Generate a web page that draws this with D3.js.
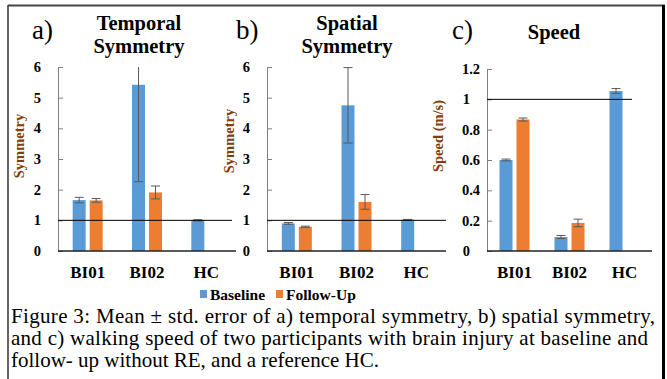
<!DOCTYPE html>
<html>
<head>
<meta charset="utf-8">
<script src="https://cdn.jsdelivr.net/npm/d3@7"></script>
<style>
  body { margin: 0; background: #fff; }
  svg { display: block; font-family: "Liberation Serif", "Times New Roman", serif; }
</style>
</head>
<body>
<div id="chart-container"></div>
<script>
// Données
const categories = ["BI01", "BI02", "HC"];
const seriesNames = ["Baseline", "Follow-Up"];

const temporalBase = [1.66, 5.42, 1.0];
const temporalBaseErr = [0.09, 3.16, 0.02];
const temporalFollow = [1.65, 1.91, null];
const temporalFollowErr = [0.06, 0.21, null];

const spatialBase = [0.9, 4.75, 1.02];
const spatialBaseErr = [0.03, 1.23, 0.01];
const spatialFollow = [0.79, 1.6, null];
const spatialFollowErr = [0.02, 0.24, null];

const speedBase = [0.6, 0.092, 1.055];
const speedBaseErr = [0.006, 0.01, 0.016];
const speedFollow = [0.867, 0.185, null];
const speedFollowErr = [0.01, 0.025, null];

const symTicks = [0, 1, 2, 3, 4, 5, 6];
const speedTicks = [0, 0.2, 0.4, 0.6, 0.8, 1, 1.2];

const captionLines = [
  "Figure 3: Mean \u00B1 std. error of a) temporal symmetry, b) spatial symmetry,",
  "and c) walking speed of two participants with brain injury at baseline and",
  "follow- up without RE, and a reference HC."
];

const colors = ["#5B9BD5", "#ED7D31"];

const W = 667, H = 379;
const svg = d3.select("#chart-container").append("svg")
  .attr("width", W).attr("height", H);

// Cadre
svg.append("line").attr("x1", 8).attr("x2", 8).attr("y1", 5).attr("y2", H)
  .attr("stroke", "#333").attr("stroke-width", 1.5);
svg.append("line").attr("x1", 8).attr("x2", 665).attr("y1", 5.5).attr("y2", 5.5)
  .attr("stroke", "#444").attr("stroke-width", 2);
svg.append("line").attr("x1", 663.5).attr("x2", 663.5).attr("y1", 5).attr("y2", H)
  .attr("stroke", "#000").attr("stroke-width", 3);

const panels = [
  { letter: "a)", lx: 32, ly: 39, title: ["Temporal", "Symmetry"], tx: 139,
    ylabel: "Symmetry", ylx: 19, yly: 146,
    x0: 58, x1: 236, yTop: 67, max: 6, ticks: symTicks, refEnd: 232,
    base: temporalBase, baseErr: temporalBaseErr, follow: temporalFollow, followErr: temporalFollowErr },
  { letter: "b)", lx: 236, ly: 39, title: ["Spatial", "Symmetry"], tx: 347,
    ylabel: "Symmetry", ylx: 229, yly: 141,
    x0: 267, x1: 446, yTop: 67, max: 6, ticks: symTicks, refEnd: 446,
    base: spatialBase, baseErr: spatialBaseErr, follow: spatialFollow, followErr: spatialFollowErr },
  { letter: "c)", lx: 452, ly: 39, title: ["Speed"], tx: 554,
    ylabel: "Speed (m/s)", ylx: 438, yly: 136,
    x0: 487, x1: 652, yTop: 69, max: 1.2, ticks: speedTicks, refEnd: 632,
    base: speedBase, baseErr: speedBaseErr, follow: speedFollow, followErr: speedFollowErr }
];

const yZero = 251;

panels.forEach(p => {
  const g = svg.append("g");
  const x = d3.scaleBand().domain(categories).range([p.x0, p.x1]);
  const y = d3.scaleLinear().domain([0, p.max]).range([yZero, p.yTop]);
  const barW = 13, gap = 4;

  // Lettre et titre
  g.append("text").attr("x", p.lx).attr("y", p.ly)
    .attr("font-size", 27).text(p.letter);
  p.title.forEach((t, i) => {
    g.append("text").attr("x", p.tx).attr("y", (p.title.length === 1 ? 39 : 30 + i * 23))
      .attr("text-anchor", "middle").attr("font-size", 20.5).attr("font-weight", "bold").text(t);
  });

  // Titre de l'axe Y
  g.append("text")
    .attr("transform", "translate(" + (p.ylx + 5) + "," + p.yly + ") rotate(-90)")
    .attr("text-anchor", "middle").attr("font-size", 14.5).attr("font-weight", "bold")
    .attr("fill", "#843C0C").text(p.ylabel);

  // Axe Y
  const yAxis = d3.axisRight(y).tickValues(p.ticks).tickSize(5).tickFormat("");
  g.append("g").attr("transform", "translate(" + p.x0 + ",0)").call(yAxis)
    .call(a => a.selectAll("line,path").attr("stroke", "#7f7f7f"));
  g.selectAll(".tl").data(p.ticks).enter().append("text")
    .attr("x", d => p.x0 - 7 - (Number.isInteger(d) ? 10 : 0))
    .attr("y", d => y(d) + 5)
    .attr("text-anchor", "end").attr("font-size", 14.5).attr("font-weight", "bold")
    .text(d => d3.format("")(d));

  // Barres
  const series = [
    { vals: p.base, errs: p.baseErr, c: colors[0] },
    { vals: p.follow, errs: p.followErr, c: colors[1] }
  ];
  series.forEach((s, si) => {
    categories.forEach((cat, ci) => {
      const v = s.vals[ci];
      if (v === null) return;
      const bx = x(cat) + x.bandwidth() / 2 - (barW * 2 + gap) / 2 + si * (barW + gap);
      g.append("rect").attr("x", bx).attr("y", y(v)).attr("width", barW)
        .attr("height", yZero - y(v)).attr("fill", s.c);
      const e = s.errs[ci];
      const hi = Math.min(v + e, p.max), lo = v - e;
      const cx = bx + barW / 2;
      g.append("line").attr("x1", cx).attr("x2", cx).attr("y1", y(hi)).attr("y2", y(lo))
        .attr("stroke", "#595959").attr("stroke-width", 1);
      [lo, v + e].forEach(ev => {
        if (ev > p.max) return;
        g.append("line").attr("x1", cx - 4.5).attr("x2", cx + 4.5)
          .attr("y1", y(ev)).attr("y2", y(ev))
          .attr("stroke", "#595959").attr("stroke-width", 1);
      });
    });
  });

  // Axe X
  g.append("line").attr("x1", p.x0).attr("x2", p.x1).attr("y1", yZero).attr("y2", yZero)
    .attr("stroke", "#222").attr("stroke-width", 1.3);
  g.selectAll(".xl").data(categories).enter().append("text")
    .attr("x", d => x(d) + x.bandwidth() / 2).attr("y", 278)
    .attr("text-anchor", "middle").attr("font-size", 17).attr("font-weight", "bold")
    .text(d => d);

  // Ligne de référence
  g.append("line").attr("x1", p.x0).attr("x2", p.refEnd).attr("y1", y(1)).attr("y2", y(1))
    .attr("stroke", "#000").attr("stroke-width", 1);
});

// Légende
const legX = [200, 276];
seriesNames.forEach((n, i) => {
  svg.append("rect").attr("x", legX[i]).attr("y", 290).attr("width", 7).attr("height", 8)
    .attr("fill", colors[i]);
  svg.append("text").attr("x", legX[i] + 10).attr("y", 299.5)
    .attr("font-size", 15.5).attr("font-weight", "bold").text(n);
});

// Légende de la figure (lignes justifiées sauf la dernière)
const captionWidths = [644, 637, null];
captionLines.forEach((t, i) => {
  const txt = svg.append("text").attr("x", 11).attr("y", 323 + i * 22)
    .attr("font-size", 21).text(t);
  if (captionWidths[i]) {
    txt.attr("textLength", captionWidths[i]).attr("lengthAdjust", "spacing");
  }
});
</script>
</body>
</html>
